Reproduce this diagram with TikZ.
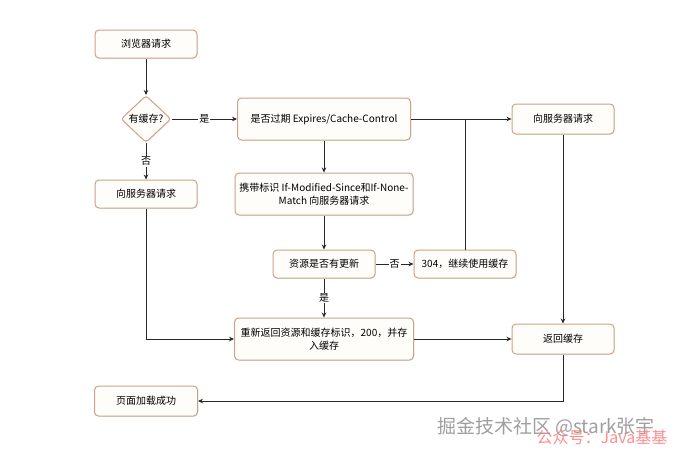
\documentclass[tikz,border=0pt]{standalone}
\usepackage{fontspec}
\setmainfont{Noto Sans CJK SC}
\usetikzlibrary{shapes.geometric,arrows.meta,shadows}
\definecolor{boxline}{RGB}{205,162,135}
\definecolor{boxfill}{RGB}{255,253,250}
\definecolor{linegray}{RGB}{40,40,40}
\begin{document}
\begin{tikzpicture}[x=1pt,y=-1pt,
    box/.style={draw=boxline, fill=boxfill, line width=1pt, rounded corners=4pt,
        align=center, font=\fontsize{10}{13}\selectfont, inner sep=2pt,
        drop shadow={opacity=0.12, shadow xshift=0.8pt, shadow yshift=-0.8pt}},
    choice/.style={box, diamond, aspect=1, inner sep=0pt, rounded corners=3pt,
        minimum width=50pt, minimum height=47pt},
    arr/.style={draw=linegray, line width=0.7pt, -{Stealth[length=5pt,width=4.5pt]}},
    lbl/.style={fill=white, inner sep=1pt, font=\fontsize{10}{11}\selectfont}]
    \useasboundingbox[fill=white] (0,0) rectangle (693,456);

    % left column
    \node[box, minimum width=102pt, minimum height=28pt] (browser) at (146,44) {浏览器请求};
    \node[choice] (cache) at (146,119) {有缓存?};
    \node[box, minimum width=102pt, minimum height=28pt] (srvL) at (146,194) {向服务器请求};
    \node[box, minimum width=103pt, minimum height=30pt] (done) at (146,401) {页面加载成功};

    % middle column
    \node[box, minimum width=173pt, minimum height=42pt] (expire) at (324,119) {是否过期 Expires/Cache-Control};
    \node[box, minimum width=178pt, minimum height=42pt] (carry) at (324,194)
        {携带标识 If-Modified-Since和If-None-\\Match 向服务器请求};
    \node[box, minimum width=102pt, minimum height=28pt] (update) at (324,264) {资源是否有更新};
    \node[box, minimum width=179pt, minimum height=42pt] (renew) at (324,339)
        {重新返回资源和缓存标识，200，并存\\入缓存};
    \node[box, minimum width=102pt, minimum height=28pt] (keep) at (465,264) {304，继续使用缓存};

    % right column
    \node[box, minimum width=102pt, minimum height=30pt] (srvR) at (563,119) {向服务器请求};
    \node[box, minimum width=102pt, minimum height=30pt] (back) at (563,339) {返回缓存};

    % connectors
    \draw[arr] (browser) -- (cache);
    \draw[arr] (cache) -- node[lbl] {是} (expire);
    \draw[arr] (cache) -- node[lbl] {否} (srvL);
    \draw[arr] (expire) -- (carry);
    \draw[arr] (carry) -- (update);
    \draw[arr] (update) -- node[lbl] {否} (keep);
    \draw[arr] (update) -- node[lbl] {是} (renew);
    \draw[arr] (expire) -- (srvR);
    \coordinate (join) at (keep.north |- srvR.west);
    \draw[draw=linegray, line width=0.7pt] (keep) -- (join);
    \draw[arr] (srvR) -- (back);
    \draw[arr] (srvL) |- (renew);
    \draw[arr] (renew) -- (back);
    \draw[arr] (back) |- (done);

    % watermark
    \node[text=gray!75, font=\fontsize{19}{19}\selectfont] (mark) at (546,427) {掘金技术社区 @stark张宇};
    \node[text=red!55, opacity=0.8, font=\fontsize{16}{16}\selectfont] (mark2) at (602,437) {公众号：Java基基};
\end{tikzpicture}
\end{document}
